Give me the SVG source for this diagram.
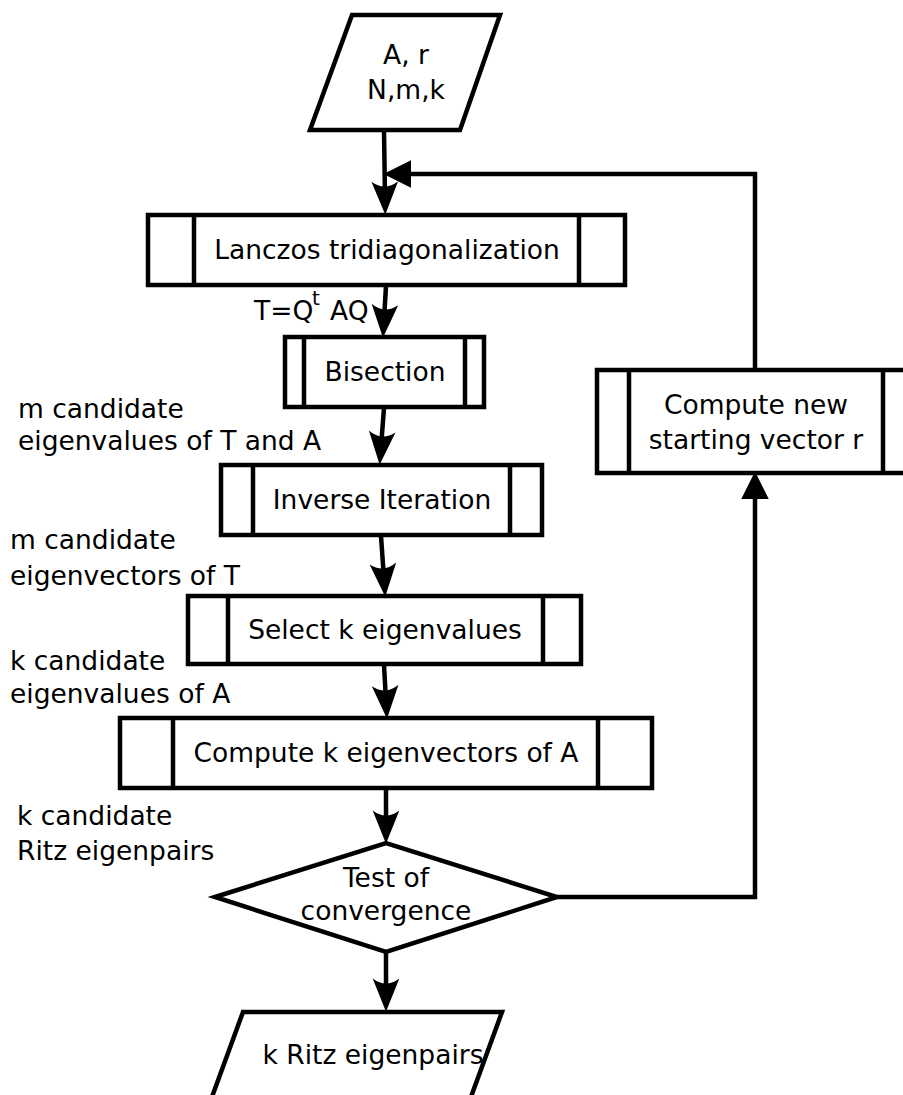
<svg xmlns="http://www.w3.org/2000/svg" width="903" height="1095" viewBox="0 0 903 1095">
<style>
.s{fill:#fff;stroke:#000;stroke-width:4.5;stroke-linejoin:miter}
.l{fill:none;stroke:#000;stroke-width:4.5}
.c{stroke:#000;stroke-width:4.5;fill:none}
text{font-family:"DejaVu Sans","Liberation Sans",sans-serif;font-size:26.5px;fill:#000}
.m{text-anchor:middle}
</style>
<defs>
<marker id="ah" markerUnits="userSpaceOnUse" markerWidth="40" markerHeight="40" viewBox="-2 -16 36 32" refX="14" refY="0" orient="auto" overflow="visible">
<path d="M30,0 L0,-12 Q9,0 0,12 Z" fill="#000"/>
</marker>
<marker id="at" markerUnits="userSpaceOnUse" markerWidth="40" markerHeight="40" viewBox="-2 -16 30 32" refX="4" refY="0" orient="auto" overflow="visible">
<path d="M22,0 L0,-11 L0,11 Z" fill="#000"/>
</marker>
</defs>
<rect width="903" height="1095" fill="#fff"/>
<g id="connectors">
<path class="c" d="M384,131 L385,197" marker-end="url(#ah)"/>
<path class="c" d="M386,286 L384,320" marker-end="url(#ah)"/>
<path class="c" d="M384,408 L381,447" marker-end="url(#ah)"/>
<path class="c" d="M381,536 L384,579" marker-end="url(#ah)"/>
<path class="c" d="M384,665 L386,701" marker-end="url(#ah)"/>
<path class="c" d="M386,789 L386,826" marker-end="url(#ah)"/>
<path class="c" d="M386,953 L386,994" marker-end="url(#ah)"/>
<path class="c" d="M755,370 L755,174 L406,174" marker-end="url(#at)"/>
<path class="c" d="M557,897 L755,897 L755,494" marker-end="url(#at)"/>
</g>
<g id="input">
<polygon class="s" points="352,15 500,15 460,130 310,130"/>
<text class="m" x="406" y="64">A, r</text>
<text class="m" x="406" y="99">N,m,k</text>
</g>
<g id="lanczos">
<rect class="s" x="148" y="215" width="477" height="70"/>
<path class="l" d="M194,215 V285 M579,215 V285"/>
<text class="m" x="387" y="259">Lanczos tridiagonalization</text>
</g>
<g id="label-t">
<text x="254" y="320">T=Q</text>
<text x="312" y="305" style="font-size:20px">t</text>
<text x="330" y="320">AQ</text>
</g>
<g id="bisection">
<rect class="s" x="285" y="337" width="199" height="70"/>
<path class="l" d="M304,337 V407 M465,337 V407"/>
<text class="m" x="385" y="381">Bisection</text>
</g>
<g id="label-m1">
<text x="18" y="418">m candidate</text>
<text x="18" y="450">eigenvalues of T and A</text>
</g>
<g id="inverse">
<rect class="s" x="221" y="465" width="321" height="70"/>
<path class="l" d="M253,465 V535 M510,465 V535"/>
<text class="m" x="382" y="509">Inverse Iteration</text>
</g>
<g id="label-m2">
<text x="10" y="549">m candidate</text>
<text x="10" y="585">eigenvectors of T</text>
</g>
<g id="select">
<rect class="s" x="188" y="596" width="393" height="68"/>
<path class="l" d="M228,596 V664 M543,596 V664"/>
<text class="m" x="385" y="639">Select k eigenvalues</text>
</g>
<g id="label-k1">
<text x="10" y="670">k candidate</text>
<text x="10" y="703">eigenvalues of A</text>
</g>
<g id="computek">
<rect class="s" x="120" y="718" width="532" height="70"/>
<path class="l" d="M173,718 V788 M598,718 V788"/>
<text class="m" x="386" y="762">Compute k eigenvectors of A</text>
</g>
<g id="label-k2">
<text x="17" y="825">k candidate</text>
<text x="17" y="860">Ritz eigenpairs</text>
</g>
<g id="test">
<polygon class="s" points="215,897 386,843 557,897 386,952"/>
<text class="m" x="386" y="887">Test of</text>
<text class="m" x="386" y="920">convergence</text>
</g>
<g id="newstart">
<rect class="s" x="597" y="370" width="318" height="103"/>
<path class="l" d="M629,370 V473 M883,370 V473"/>
<text class="m" x="756" y="414">Compute new</text>
<text class="m" x="756" y="449">starting vector r</text>
</g>
<g id="output">
<polygon class="s" points="243,1012 502,1012 460,1127 201,1127"/>
<text class="m" x="373" y="1064">k Ritz eigenpairs</text>
</g>
</svg>
